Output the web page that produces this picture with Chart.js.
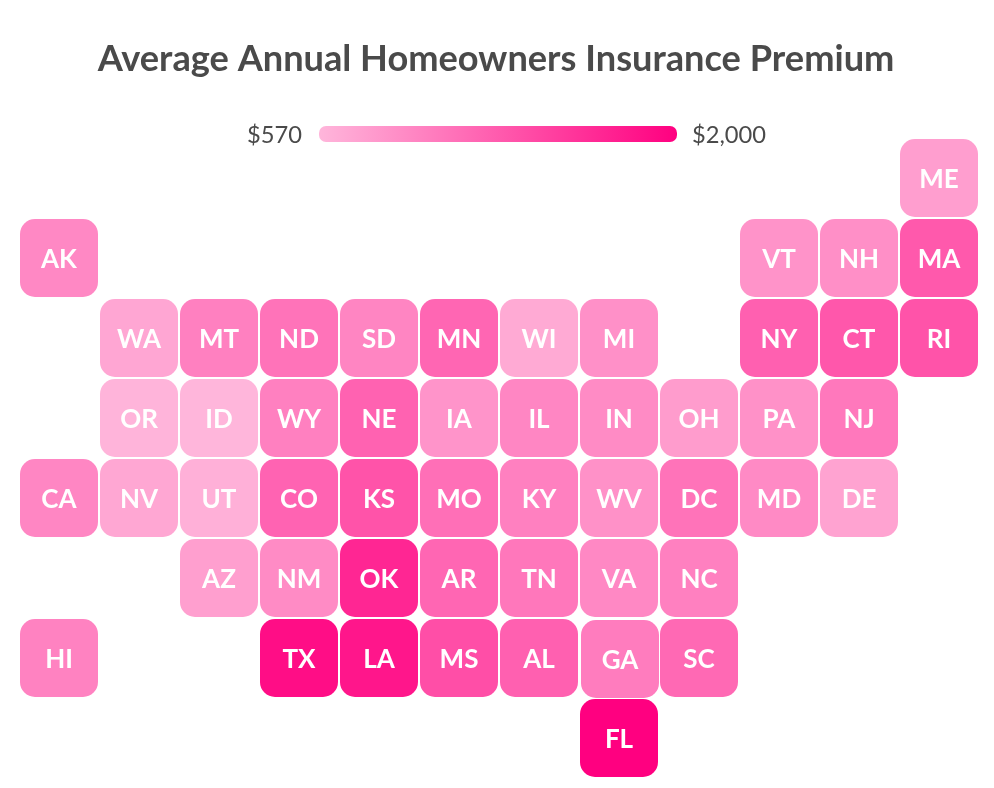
<!DOCTYPE html>
<html>
<head>
<meta charset="utf-8">
<title>Average Annual Homeowners Insurance Premium</title>
<script src="https://cdn.jsdelivr.net/npm/chart.js@4"></script>
<style>
html,body{margin:0;padding:0;background:#fff}
#wrap{width:994px;height:788px;position:relative}
</style>
</head>
<body>
<div id="wrap"><canvas id="c" width="994" height="788"></canvas></div>
<script>
const titleText = "Average Annual Homeowners Insurance Premium";
const legendMinLabel = "$570";
const legendMaxLabel = "$2,000";
const premiumMin = 570;
const premiumMax = 2000;

const columns = ["0","1","2","3","4","5","6","7","8","9","10","11"];

const row0 = [null,null,null,null,null,null,null,null,null,null,null,"ME"];
const row1 = ["AK",null,null,null,null,null,null,null,null,"VT","NH","MA"];
const row2 = [null,"WA","MT","ND","SD","MN","WI","MI",null,"NY","CT","RI"];
const row3 = [null,"OR","ID","WY","NE","IA","IL","IN","OH","PA","NJ",null];
const row4 = ["CA","NV","UT","CO","KS","MO","KY","WV","DC","MD","DE",null];
const row5 = [null,null,"AZ","NM","OK","AR","TN","VA","NC",null,null,null];
const row6 = ["HI",null,null,"TX","LA","MS","AL","GA","SC",null,null,null];
const row7 = [null,null,null,null,null,null,null,"FL",null,null,null,null];
const rows = [row0,row1,row2,row3,row4,row5,row6,row7];

const premium0 = [null,null,null,null,null,null,null,null,null,null,null,760];
const premium1 = [930,null,null,null,null,null,null,null,null,850,880,1300];
const premium2 = [null,700,1000,1100,960,1200,670,870,null,1250,1320,1350];
const premium3 = [null,590,570,1000,1230,840,950,910,780,860,1060,null];
const premium4 = [950,690,620,1220,1350,1130,1000,860,1100,920,720,null];
const premium5 = [null,null,750,910,1700,1200,1070,930,1000,null,null,null];
const premium6 = [980,null,null,1900,1830,1390,1250,1030,1180,null,null,null];
const premium7 = [null,null,null,null,null,null,null,2000,null,null,null,null];
const premiums = [premium0,premium1,premium2,premium3,premium4,premium5,premium6,premium7];

function tint(value){
  const a = value / premiumMax;
  return "rgb(255," + Math.round(255*(1-a)) + "," + Math.round(128+127*(1-a)) + ")";
}

const datasets = rows.map((row, r) => ({
  label: "row " + r,
  data: row.map(s => s === null ? null : [r + 0.0125, r + 0.9875]),
  backgroundColor: premiums[r].map(v => v === null ? "transparent" : tint(v)),
  borderWidth: 0,
  borderSkipped: false,
  borderRadius: 15,
  inflateAmount: 0,
  grouped: false,
  barPercentage: 0.975,
  categoryPercentage: 1
}));

const tilePlugin = {
  id: "tileExtras",
  afterLayout(chart){
    // centre the title on the page rather than on the padded plot box
    if (chart.titleBlock && !chart.titleBlock._nudged){
      chart.titleBlock.left -= 3;
      chart.titleBlock.right -= 3;
      chart.titleBlock._nudged = true;
    }
  },
  afterDatasetsUpdate(chart){
    // the GA tile sits one pixel off the grid in the reference
    const el = chart.getDatasetMeta(6).data[7];
    if (el && !el._nudged){ el.x += 1; el.y += 1; el.base += 1; el._nudged = true; }
  },
  afterDatasetsDraw(chart){
    const ctx = chart.ctx;
    ctx.save();
    ctx.fillStyle = "#ffffff";
    ctx.font = "bold 26px Lato";
    ctx.textAlign = "center";
    ctx.textBaseline = "middle";
    rows.forEach((row, r) => {
      const meta = chart.getDatasetMeta(r);
      row.forEach((s, c) => {
        if (s === null) return;
        const el = meta.data[c];
        const p = el.getProps(["x","y","base"], true);
        ctx.fillText(s, p.x, (p.y + p.base) / 2 + 2);
      });
    });
    // colour legend
    const g = ctx.createLinearGradient(319, 0, 677, 0);
    g.addColorStop(0, tint(premiumMin));
    g.addColorStop(1, tint(premiumMax));
    ctx.fillStyle = g;
    ctx.beginPath();
    ctx.roundRect(319, 126, 358, 16, 7);
    ctx.fill();
    ctx.fillStyle = "#4a4a4a";
    ctx.font = "23.7px Lato";
    ctx.textAlign = "right";
    ctx.fillText(legendMinLabel, 302, 135);
    ctx.textAlign = "left";
    ctx.fillText(legendMaxLabel, 692, 135);
    ctx.restore();
  }
};

new Chart(document.getElementById("c"), {
  type: "bar",
  data: { labels: columns, datasets },
  plugins: [tilePlugin],
  options: {
    responsive: false,
    animation: false,
    devicePixelRatio: 1,
    layout: { padding: { left: 19, right: 15, top: 0, bottom: 10 } },
    scales: {
      x: { display: false, offset: true, grid: { display: false } },
      y: { display: false, reverse: true, min: 0, max: 8, grid: { display: false } }
    },
    plugins: {
      legend: { display: false },
      tooltip: { enabled: false },
      title: {
        display: true,
        text: titleText,
        color: "#4a4a4a",
        font: { family: "Lato", size: 36.2, weight: "bold", lineHeight: 1.2 },
        padding: { top: 37.7, bottom: 56.86 }
      }
    }
  }
});
</script>
</body>
</html>
